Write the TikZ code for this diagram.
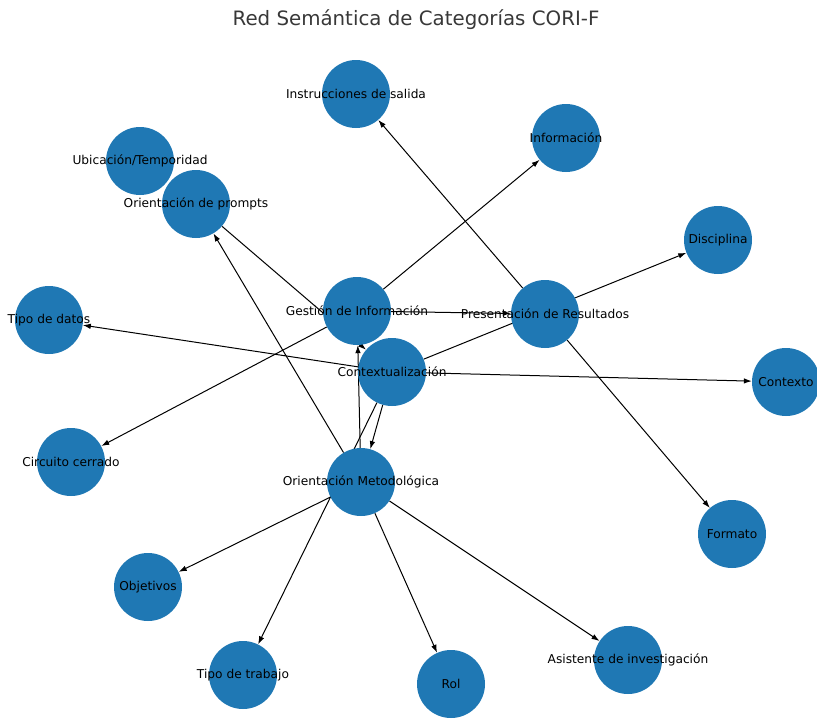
\documentclass[tikz,border=0pt]{standalone}
\usepackage{fontspec}
\setmainfont{DejaVu Sans}
\usetikzlibrary{arrows.meta,backgrounds}
\definecolor{nxblue}{HTML}{1F78B4}

\begin{document}
\begin{tikzpicture}[x=1pt,y=-1pt,
  cat/.style={circle,fill=nxblue,minimum size=68pt,inner sep=0pt},
  lbl/.style={font=\fontsize{12.2}{14}\selectfont,inner sep=0pt},
  arc/.style={-{Latex[length=8pt,width=5.5pt]},line width=1pt}]
  \useasboundingbox (0,0) rectangle (817,718);
  \node[font=\fontsize{19.8}{24}\selectfont,text=black!78] (title) at (416,20) {Red Semántica de Categorías CORI-F};

  % categories
  \node[cat] (instr) at (356,94) {};
  \node[cat] (info) at (566,138) {};
  \node[cat] (ubic) at (140,161) {};
  \node[cat] (prompts) at (196,204) {};
  \node[cat] (disc) at (718,240) {};
  \node[cat] (datos) at (49,320) {};
  \node[cat] (gest) at (357,311) {};
  \node[cat] (pres) at (545,314) {};
  \node[cat] (ctx) at (392,372) {};
  \node[cat] (contexto) at (786,382) {};
  \node[cat] (circ) at (71,462) {};
  \node[cat] (om) at (361,482) {};
  \node[cat] (formato) at (732,534) {};
  \node[cat] (obj) at (148,587) {};
  \node[cat] (trab) at (243,675) {};
  \node[cat] (rol) at (451,684) {};
  \node[cat] (asist) at (628,660) {};

  \begin{pgfonlayer}{background}
    \draw[arc] (pres) -- (instr);
    \draw[arc] (gest) -- (info);
    \draw[arc] (ctx) -- (disc);
    \draw[arc] (gest) -- (pres);
    \draw[arc] (pres) -- (formato);
    \draw[arc] (ctx) -- (contexto);
    \draw[arc] (ctx) -- (datos);
    \draw[arc] (gest) -- (circ);
    \draw[arc] (prompts) -- (ctx);
    \draw[arc] (om) -- (prompts);
    \draw[arc] (om) -- (gest);
    \draw[arc] (ctx) -- (om);
    \draw[arc] (ctx) -- (trab);
    \draw[arc] (om) -- (obj);
    \draw[arc] (om) -- (rol);
    \draw[arc] (om) -- (asist);
  \end{pgfonlayer}

  % labels
  \node[lbl] (instrL) at (instr) {Instrucciones de salida};
  \node[lbl] (infoL) at (info) {Información};
  \node[lbl] (ubicL) at (ubic) {Ubicación/Temporidad};
  \node[lbl] (promptsL) at (prompts) {Orientación de prompts};
  \node[lbl] (discL) at (disc) {Disciplina};
  \node[lbl] (datosL) at (datos) {Tipo de datos};
  \node[lbl] (gestL) at (gest) {Gestión de Información};
  \node[lbl] (presL) at (pres) {Presentación de Resultados};
  \node[lbl] (ctxL) at (ctx) {Contextualización};
  \node[lbl] (contextoL) at (contexto) {Contexto};
  \node[lbl] (circL) at (circ) {Circuito cerrado};
  \node[lbl] (omL) at (om) {Orientación Metodológica};
  \node[lbl] (formatoL) at (formato) {Formato};
  \node[lbl] (objL) at (obj) {Objetivos};
  \node[lbl] (trabL) at (trab) {Tipo de trabajo};
  \node[lbl] (rolL) at (rol) {Rol};
  \node[lbl] (asistL) at (asist) {Asistente de investigación};
\end{tikzpicture}
\end{document}
